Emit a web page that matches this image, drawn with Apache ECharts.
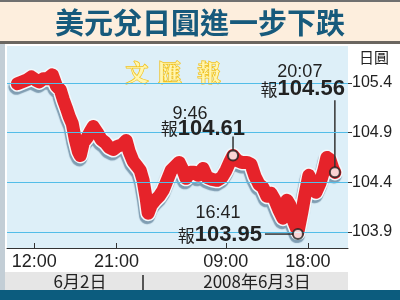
<!DOCTYPE html>
<html><head><meta charset="utf-8">
<script src="https://cdn.jsdelivr.net/npm/echarts@6/dist/echarts.min.js"></script>
<style>html,body{margin:0;padding:0;background:#fff}#c{width:400px;height:300px}</style>
</head><body><div id="c"></div>
<script>
// ---- data ----
const titleText = '美元兌日圓進一步下跌';
const unitText = '日圓';
const watermark = ['文', '匯', '報'];
// hours counted from 00:00 on 2 June 2008
const hours = [10.14,10.69,11.23,11.67,12.11,12.55,12.99,13.42,13.97,14.41,
  14.85,15.18,15.50,15.83,16.16,16.49,16.82,17.04,17.37,17.80,
  18.13,18.46,18.90,19.34,19.77,20.21,20.65,21.09,21.64,22.07,
  22.40,22.84,23.28,23.61,23.93,24.26,24.48,24.81,25.25,25.69,
  26.12,26.56,27.00,27.44,27.88,28.31,28.64,29.08,29.52,29.96,
  30.50,30.94,31.49,32.04,32.58,33.02,33.46,33.79,34.23,34.77,
  35.32,35.76,36.20,36.64,37.07,37.51,37.95,38.39,38.83,39.26,
  39.70,40.03,40.47,40.91,41.34,41.67,42.11,42.55,42.88,43.32,
  43.75,44.08,44.41,44.74,44.96];
const rates = [105.39,105.41,105.43,105.46,105.43,105.41,105.44,105.44,105.48,105.37,
  105.33,105.23,105.15,105.06,104.99,104.83,104.71,104.67,104.80,104.85,
  104.91,104.96,104.90,104.83,104.80,104.75,104.73,104.76,104.78,104.82,
  104.71,104.61,104.56,104.52,104.42,104.24,104.09,104.17,104.22,104.26,
  104.32,104.42,104.52,104.56,104.60,104.52,104.44,104.50,104.50,104.47,
  104.54,104.45,104.43,104.42,104.45,104.52,104.61,104.67,104.62,104.60,
  104.60,104.58,104.46,104.38,104.35,104.26,104.29,104.22,104.12,104.04,
  104.22,104.17,104.00,103.90,104.10,104.27,104.47,104.37,104.30,104.39,
  104.52,104.65,104.63,104.54,104.50];
const xTickHours = [12, 21, 33, 42];
const yTicks = [103.9, 104.4, 104.9, 105.4];
const dateLabels = ['6月2日', '2008年6月3日'];
const noteHours = [33.79, 40.91, 44.96];
const noteRates = [104.67, 103.88, 104.50];
const noteTimes = ['9:46', '16:41', '20:07'];
const noteValues = ['104.61', '103.95', '104.56'];

// ---- layout ----
const noteLayout = [
  {time:[-43,-41], val:[12,-27], line:[[0,-5],[0,-19]]},
  {time:[-80,-21], val:[-36,1], line:[[-5,0],[-33,0]]},
  {time:[-35,-100], val:[10,-83], line:[[0,-5],[0,-72]]}
];
const NUM = '"Liberation Sans", Arial, sans-serif';
const CJK = '"Noto Sans CJK TC", "Noto Sans CJK SC", sans-serif';

const chart = echarts.init(document.getElementById('c'), null, {renderer:'canvas'});

const baseGraphic = [
  {id:'tb', type:'rect', z:-10, shape:{x:0,y:0,width:400,height:42}, style:{fill:'#fdeedd'}},
  {id:'tl', type:'rect', z:-9, shape:{x:0,y:0,width:400,height:2}, style:{fill:'#707070'}},
  {id:'bl', type:'rect', z:-9, shape:{x:0,y:41,width:400,height:3}, style:{fill:'#6b6660'}},
  {id:'tt', type:'text', x:200, y:23, style:{text:titleText, fill:'#175a7c', font:'bold 29px ' + CJK, textAlign:'center', textVerticalAlign:'middle'}},
  {id:'ls', type:'rect', z:-9, shape:{x:0,y:44,width:5,height:246}, style:{fill:'#c3ced6'}},
  {id:'db', type:'rect', z:-9, shape:{x:5,y:272,width:343,height:18}, style:{fill:'#e6e6e6'}},
  {id:'sp', type:'rect', shape:{x:142,y:275,width:2,height:15}, style:{fill:'#555'}},
  {id:'d1', type:'text', x:80, y:282, style:{text:dateLabels[0], fill:'#222', font:'17px ' + CJK, textAlign:'center', textVerticalAlign:'middle'}},
  {id:'d2', type:'text', x:257, y:282, style:{text:dateLabels[1], fill:'#222', font:'17px ' + CJK, textAlign:'center', textVerticalAlign:'middle'}},
  {id:'bb', type:'rect', shape:{x:0,y:290,width:400,height:10}, style:{fill:'#0c5c7e'}},
  {id:'un', type:'text', x:374, y:57, style:{text:unitText, fill:'#222', font:'15px ' + CJK, textAlign:'center', textVerticalAlign:'middle'}},
  {id:'w0', type:'text', x:137, y:72, z:1, style:{text:watermark[0], fill:'#fff6b0', stroke:'#f2c21e', lineWidth:1.5, font:'bold 23px "Noto Serif CJK TC", serif, ' + CJK, textAlign:'center', textVerticalAlign:'middle'}},
  {id:'w1', type:'text', x:170, y:72, z:1, style:{text:watermark[1], fill:'#fff6b0', stroke:'#f2c21e', lineWidth:1.5, font:'bold 23px "Noto Serif CJK TC", serif, ' + CJK, textAlign:'center', textVerticalAlign:'middle'}},
  {id:'w2', type:'text', x:209, y:72, z:1, style:{text:watermark[2], fill:'#fff6b0', stroke:'#f2c21e', lineWidth:1.5, font:'bold 23px "Noto Serif CJK TC", serif, ' + CJK, textAlign:'center', textVerticalAlign:'middle'}}
];

const linePts = hours.map((h, i) => [h, rates[i]]);
const notePts = noteHours.map((h, i) => [h, noteRates[i]]);

const option = {
  animation: false,
  backgroundColor: '#ffffff',
  grid: {left:7, right:52, top:46, bottom:52, show:true, backgroundColor:'#ddeff8', borderWidth:0},
  xAxis: {
    type:'value', min:9, max:46.4,
    axisLine:{show:true, onZero:false, lineStyle:{color:'#333', width:1}},
    axisTick:{show:true, inside:true, length:5, customValues:xTickHours, lineStyle:{color:'#333', width:1}},
    axisLabel:{customValues:xTickHours, margin:5, color:'#222', fontSize:18, fontFamily:NUM,
      formatter: v => String(Math.round(v) % 24).padStart(2,'0') + ':00'},
    splitLine:{show:false}
  },
  yAxis: {
    type:'value', position:'right', min:103.74, max:105.77,
    axisLine:{show:false},
    axisTick:{show:true, inside:false, length:4, customValues:yTicks, lineStyle:{color:'#333', width:1}},
    axisLabel:{customValues:yTicks, margin:4, color:'#222', fontSize:16, fontFamily:NUM, formatter: v => v.toFixed(1)},
    splitLine:{show:false}
  },
  graphic: baseGraphic,
  series: [
    {type:'line', data:[], z:1, silent:true,
      markLine:{silent:true, symbol:'none', label:{show:false}, lineStyle:{color:'#52bde8', width:1, type:'solid'},
        data: yTicks.map(v => ({yAxis:v}))}},
    {type:'line', data:linePts, z:2, symbol:'none', silent:true,
      lineStyle:{color:'#f2f8fb', width:16, join:'round', cap:'round', shadowColor:'#7f9db2', shadowOffsetX:-1, shadowOffsetY:3, shadowBlur:1}},
    {type:'line', data:linePts, z:3, symbol:'none', silent:true,
      lineStyle:{color:'#e6232a', width:13, join:'round', cap:'round'}},
    {type:'scatter', data:notePts, z:5, symbol:'circle', symbolSize:10, silent:true,
      itemStyle:{color:'#ffffff', borderColor:'#222', borderWidth:2}}
  ]
};
chart.setOption(option);

const extra = [];
noteHours.forEach((h, i) => {
  const p = chart.convertToPixel({gridIndex:0}, [h, noteRates[i]]);
  const L = noteLayout[i];
  extra.push({id:'nl'+i, type:'line', z:4, shape:{x1:p[0]+L.line[0][0], y1:p[1]+L.line[0][1], x2:p[0]+L.line[1][0], y2:p[1]+L.line[1][1]},
    style:{stroke:'#333', lineWidth:1.5}});
  extra.push({id:'nt'+i, type:'text', z:6, x:p[0]+L.time[0], y:p[1]+L.time[1],
    style:{text:noteTimes[i], fill:'#222', font:'18px ' + NUM, textAlign:'center', textVerticalAlign:'middle'}});
  extra.push({id:'nv'+i, type:'text', z:6, x:p[0]+L.val[0], y:p[1]+L.val[1],
    style:{text:'{a|報}{b|' + noteValues[i] + '}', textAlign:'right', textVerticalAlign:'middle',
      rich:{a:{fontSize:17, fontFamily:CJK, fill:'#222'}, b:{fontSize:22, fontWeight:'bold', fontFamily:NUM, fill:'#222'}}}});
});
chart.setOption({graphic: baseGraphic.concat(extra)});
</script>
</body></html>
